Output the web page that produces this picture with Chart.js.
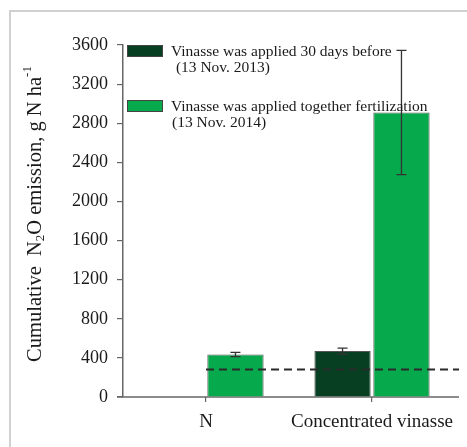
<!DOCTYPE html>
<html>
<head>
<meta charset="utf-8">
<script src="https://cdn.jsdelivr.net/npm/chart.js@4/dist/chart.umd.min.js"></script>
<style>
  html, body { margin: 0; padding: 0; background: #fff; overflow: hidden; }
  canvas { display: block; }
</style>
</head>
<body>
<canvas id="c" width="467" height="447"></canvas>
<script>
// ---- data ----
const categories = ["N", "Concentrated vinasse"];
const series2013 = [null, 470];
const series2013Err = [null, 30];
const series2014 = [435, 2910];
const series2014Err = [22, 635];
const referenceLine = 280;
const yTicks = [0, 400, 800, 1200, 1600, 2000, 2400, 2800, 3200, 3600];
const legend2013 = ["Vinasse was applied 30 days before", " (13 Nov. 2013)"];
const legend2014 = ["Vinasse was applied together fertilization", "(13 Nov. 2014)"];

const DARK = "#073f23";
const GREEN = "#06a94c";
const TXT = "#1a1a1a";
const SERIF = "'Liberation Serif', 'DejaVu Serif', serif";

const errorBars = {
  id: "errorBars",
  afterDatasetsDraw(chart) {
    const ctx = chart.ctx;
    const y = chart.scales.y, x = chart.scales.x;
    const errs = [series2013Err, series2014Err];
    ctx.save();
    ctx.strokeStyle = "#2a2a2a";
    ctx.lineWidth = 2;
    ctx.setLineDash([8, 5]);
    const yr = y.getPixelForValue(referenceLine);
    ctx.beginPath();
    ctx.moveTo(x.getPixelForValue(0), yr);
    ctx.lineTo(459, yr);
    ctx.stroke();
    ctx.setLineDash([]);
    ctx.strokeStyle = "#333";
    ctx.lineWidth = 1.3;
    chart.data.datasets.forEach((ds, i) => {
      const meta = chart.getDatasetMeta(i);
      ds.data.forEach((v, j) => {
        if (v == null) return;
        const e = errs[i][j];
        const px = meta.data[j].x;
        const t = y.getPixelForValue(v + e), b = y.getPixelForValue(v - e);
        ctx.beginPath();
        ctx.moveTo(px, t); ctx.lineTo(px, b);
        ctx.moveTo(px - 5, t); ctx.lineTo(px + 5, t);
        ctx.moveTo(px - 5, b); ctx.lineTo(px + 5, b);
        ctx.stroke();
      });
    });
    ctx.restore();
  }
};

const extras = {
  id: "extras",
  beforeDraw(chart) {
    const ctx = chart.ctx;
    ctx.save();
    ctx.fillStyle = "#fff";
    ctx.fillRect(0, 0, chart.width, chart.height);
    ctx.strokeStyle = "#d0d0d0";
    ctx.lineWidth = 2;
    ctx.beginPath();
    ctx.moveTo(10, chart.height + 2); ctx.lineTo(10, 11); ctx.lineTo(chart.width + 2, 11);
    ctx.stroke();
    ctx.restore();
  },
  beforeDatasetsDraw(chart) {
    const ctx = chart.ctx;
    const a = chart.chartArea;
    ctx.save();
    ctx.strokeStyle = "#666";
    ctx.lineWidth = 1.5;
    ctx.beginPath();
    ctx.moveTo(117, a.bottom); ctx.lineTo(459, a.bottom);
    ctx.stroke();
    ctx.restore();
  },
  afterDraw(chart) {
    const ctx = chart.ctx;
    ctx.save();
    const entries = [[DARK, legend2013, 45], [GREEN, legend2014, 100]];
    entries.forEach(([col, lines, top]) => {
      ctx.fillStyle = col;
      ctx.strokeStyle = "#444";
      ctx.lineWidth = 1;
      ctx.fillRect(127.5, top + 0.5, 35, 11);
      ctx.strokeRect(127.5, top + 0.5, 35, 11);
      ctx.fillStyle = TXT;
      ctx.font = "15.5px " + SERIF;
      ctx.textBaseline = "middle";
      ctx.textAlign = "left";
      ctx.fillText(lines[0], 171, top + 7);
      ctx.fillText(lines[1], 172, top + 23);
    });
    const parts = [
      ["Cumulative  N", 20.5, 0],
      ["2", 13, 5],
      ["O emission, g N ha", 20.5, 0],
      ["-1", 13, -8]
    ];
    let total = 0;
    parts.forEach(p => { ctx.font = p[1] + "px " + SERIF; total += ctx.measureText(p[0]).width; });
    ctx.translate(36, 214);
    ctx.rotate(-Math.PI / 2);
    ctx.textBaseline = "middle";
    ctx.textAlign = "left";
    ctx.fillStyle = TXT;
    let xx = -total / 2;
    parts.forEach(p => {
      ctx.font = p[1] + "px " + SERIF;
      ctx.fillText(p[0], xx, p[2]);
      xx += ctx.measureText(p[0]).width;
    });
    ctx.restore();
  }
};

new Chart(document.getElementById("c"), {
  type: "bar",
  data: {
    labels: categories,
    datasets: [
      { label: legend2013.join(" "), data: series2013, backgroundColor: DARK,
        borderColor: "#555", borderWidth: 1, barPercentage: 0.955, categoryPercentage: 0.71 },
      { label: legend2014.join(" "), data: series2014, backgroundColor: GREEN,
        borderColor: "#555", borderWidth: 1, barPercentage: 0.955, categoryPercentage: 0.71 }
    ]
  },
  options: {
    responsive: false,
    animation: false,
    devicePixelRatio: 1,
    layout: { padding: { left: 0, right: 12, top: 45, bottom: 0 } },
    plugins: { legend: { display: false }, tooltip: { enabled: false } },
    scales: {
      x: {
        grid: { display: true, drawOnChartArea: false, offset: false, tickLength: 5,
                color: "#666", lineWidth: 1.2 },
        border: { display: false },
        ticks: { color: TXT, font: { family: SERIF, size: 19 }, padding: 9, maxRotation: 0 },
        afterFit: s => { s.height = 50; }
      },
      y: {
        min: 0, max: 3600,
        afterBuildTicks: s => { s.ticks = yTicks.map(v => ({ value: v })); },
        grid: { display: true, drawOnChartArea: false, tickLength: 6, color: "#666", lineWidth: 1.2 },
        border: { display: true, color: "#666", width: 1.5 },
        ticks: { color: TXT, font: { family: SERIF, size: 18 }, padding: 9,
                 callback: v => String(v) },
        afterFit: s => { s.width = 123; }
      }
    }
  },
  plugins: [errorBars, extras]
});
</script>
</body>
</html>
